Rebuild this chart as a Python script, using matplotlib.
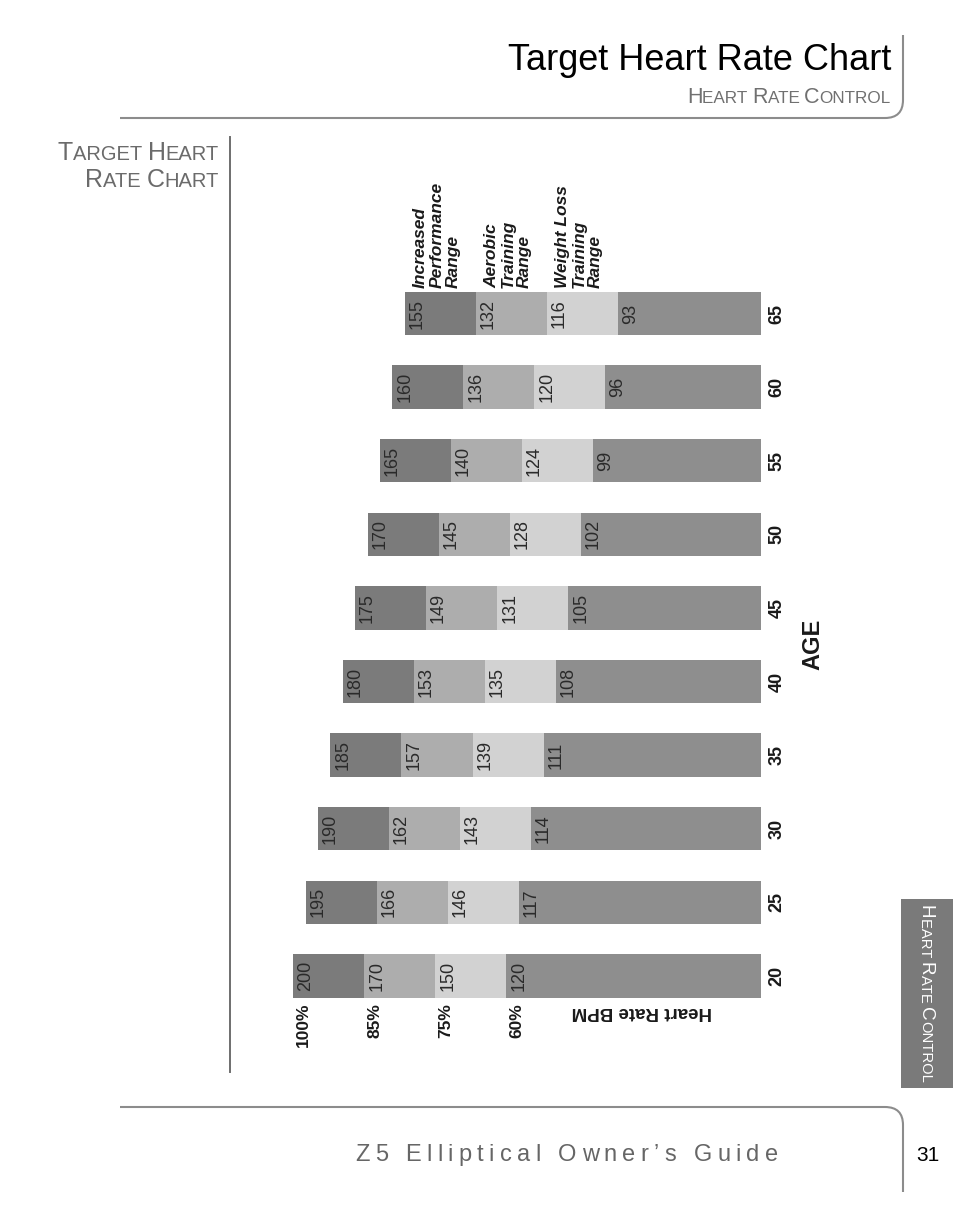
import matplotlib.pyplot as plt
from matplotlib.path import Path
from matplotlib.patches import PathPatch, Rectangle

ages = [20, 25, 30, 35, 40, 45, 50, 55, 60, 65]
max_hr = [200, 195, 190, 185, 180, 175, 170, 165, 160, 155]
hr_85 = [170, 166, 162, 157, 153, 149, 145, 140, 136, 132]
hr_75 = [150, 146, 143, 139, 135, 131, 128, 124, 120, 116]
hr_60 = [120, 117, 114, 111, 108, 105, 102, 99, 96, 93]

percent_labels = ['100%', '85%', '75%', '60%']
zone_names = ['Increased\nPerformance\nRange',
              'Aerobic\nTraining\nRange',
              'Weight Loss\nTraining\nRange']
zone_colors = ['#7b7b7b', '#adadad', '#d2d2d2', '#8e8e8e']

SEG = 28.7     # drawn width of each zone (the chart is schematic)
BASE = 11.1    # where every bar ends on the right
BAR_H = 2.95
FONT = 'Liberation Sans'

fig = plt.figure(figsize=(9.54, 12.27), dpi=100)

# page decoration in pixel units
deco = fig.add_axes([0, 0, 1, 1])
deco.set_xlim(0, 954)
deco.set_ylim(1227, 0)
deco.axis('off')
renderer = fig.canvas.get_renderer()


def text_w(s, **kw):
    t = deco.text(0, 0, 'x' + s + 'x', **kw)
    w = t.get_window_extent(renderer).width
    t.set_text('xx')
    w -= t.get_window_extent(renderer).width
    t.remove()
    return w


def caps_pieces(text, big, small):
    words = text.split(' ')
    pieces = []
    for i, word in enumerate(words):
        pieces.append((word[0], big))
        tail = word[1:].upper() + (' ' if i < len(words) - 1 else '')
        if tail:
            pieces.append((tail, small))
    return pieces


def place_pieces(pieces, x, y, ha='left', rotation=0, tracking=0.0, width=None, **kw):
    widths = [text_w(s, fontsize=sz, **kw) for s, sz in pieces]
    if width is not None:
        tracking = (width - sum(widths)) / (len(pieces) - 1)
    total = sum(widths) + tracking * (len(pieces) - 1)
    start = {'left': 0, 'center': total / 2, 'right': total}[ha]
    if rotation == 0:
        pos = x - start
        for (s, sz), w in zip(pieces, widths):
            deco.text(pos, y, s, fontsize=sz, ha='left', va='baseline', **kw)
            pos += w + tracking
    else:
        pos = y - start
        for (s, sz), w in zip(pieces, widths):
            deco.text(x, pos, s, fontsize=sz, ha='left', va='baseline',
                      rotation=-90, rotation_mode='anchor', **kw)
            pos += w + tracking


line_kw = dict(facecolor='none', edgecolor='#8c8c8c', linewidth=1.5)
codes = [Path.MOVETO, Path.LINETO, Path.CURVE3, Path.CURVE3, Path.LINETO]
deco.add_patch(PathPatch(Path([(120, 118), (885, 118), (903, 118), (903, 100), (903, 35)], codes), **line_kw))
deco.add_patch(PathPatch(Path([(120, 1107), (885, 1107), (903, 1107), (903, 1125), (903, 1192)], codes), **line_kw))
deco.plot([230, 230], [137, 1072], color='#6e6e6e', linewidth=1.4)

deco.text(891, 70, 'Target Heart Rate Chart', fontsize=26, family=FONT,
          ha='right', va='baseline', color='black')
place_pieces(caps_pieces('Heart Rate Control', 15.5, 12.3), 891, 103, ha='right',
             family=FONT, color='#707070')
place_pieces(caps_pieces('Target Heart', 18, 14.5), 219, 160, ha='right',
             family=FONT, color='#6b6b6b')
place_pieces(caps_pieces('Rate Chart', 18, 14.5), 219, 187, ha='right',
             family=FONT, color='#6b6b6b')

deco.add_patch(Rectangle((901, 899), 53, 189, facecolor='#7a7a7a', edgecolor='none'))
place_pieces(caps_pieces('Heart Rate Control', 13.6, 10.6), 921, 905, rotation=-90,
             family=FONT, color='white')

place_pieces([(c, 17) for c in 'Z5 Elliptical Owner’s Guide'], 355, 1161,
             width=423, family=FONT, color='#666666')
deco.text(928, 1161, '31', fontsize=15, family=FONT, ha='center', va='baseline', color='black')

# the chart itself: x is heart rate (bpm, reversed), y is age
ax = fig.add_axes([240 / 954, 1 - 1080 / 1227, 600 / 954, 940 / 1227])
ax.set_xlim(221.5, -20.8)
ax.set_ylim(12.93, 76.79)
ax.axis('off')

for age, mx, h85, h75, h60 in zip(ages, max_hr, hr_85, hr_75, hr_60):
    levels = [mx, h85, h75, h60]
    edges = [mx - k * SEG for k in range(4)] + [BASE]
    for k in range(4):
        ax.barh(age, edges[k + 1] - edges[k], left=edges[k], height=BAR_H,
                color=zone_colors[k], linewidth=0)
        ax.text(edges[k] - 5.0, age, str(levels[k]), rotation=90, ha='center',
                va='center', fontsize=13, family=FONT, color='#2a2a2a')
    ax.text(BASE - 6.6, age, str(age), rotation=90, ha='center', va='center',
            fontsize=13, family=FONT, weight='bold', color='#1a1a1a')

for k, lab in enumerate(percent_labels):
    ax.text(max_hr[0] - k * SEG - 4.2, ages[0] - BAR_H / 2 - 0.35, lab, rotation=90,
            ha='center', va='top', fontsize=12.5, family=FONT, weight='bold', color='#1a1a1a')

for k, name in enumerate(zone_names):
    ax.text(max_hr[-1] - k * SEG - 3.4, ages[-1] + BAR_H / 2 + 0.25, name, rotation=90,
            ha='left', va='bottom', multialignment='left', linespacing=1.1,
            fontsize=12.5, family=FONT, weight='bold', style='italic', color='#1a1a1a')

ax.text(59.2, 17.55, 'Heart Rate BPM', rotation=180, ha='center', va='center',
        fontsize=13.5, family=FONT, weight='bold', color='#1a1a1a')
ax.text(BASE - 21, (ages[4] + ages[5]) / 2, 'AGE', rotation=90, ha='center', va='center',
        fontsize=17, family=FONT, weight='bold', color='#1a1a1a')

fig.savefig('out.png', dpi=100)
